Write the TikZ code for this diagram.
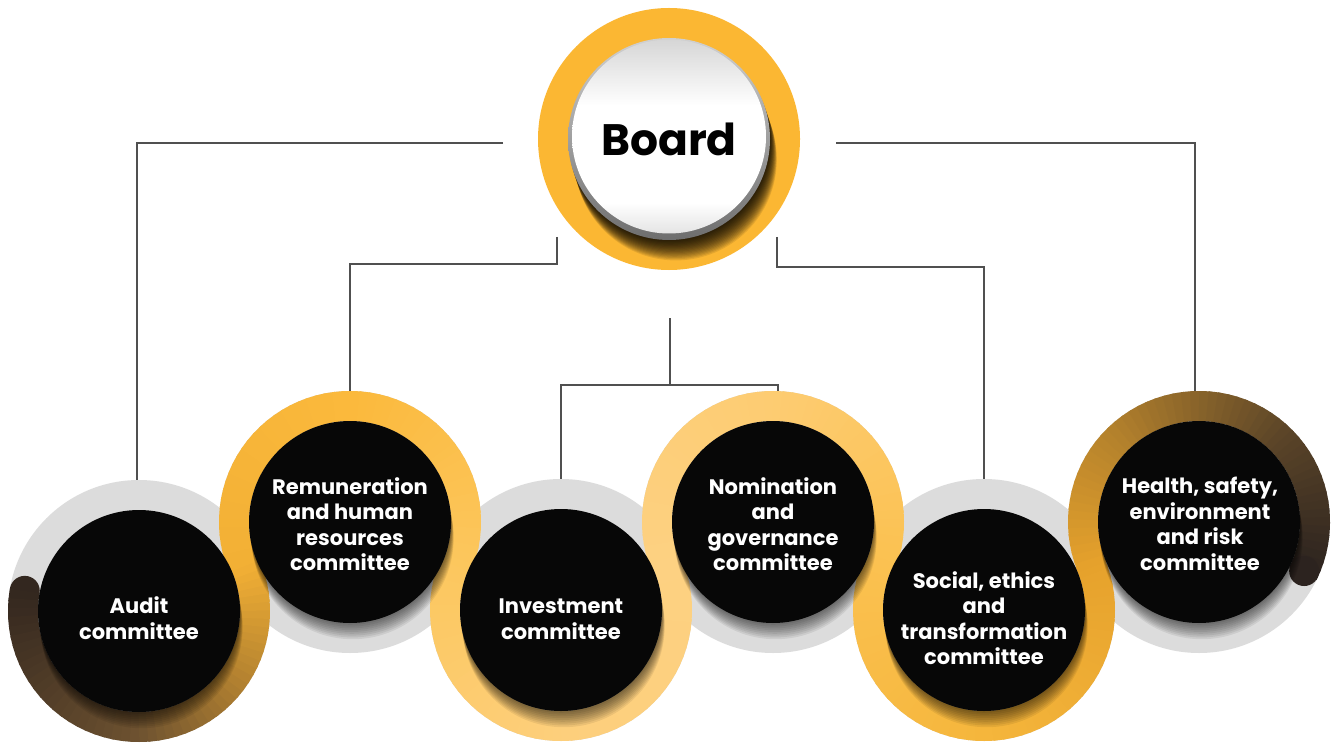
\documentclass[tikz,border=0pt]{standalone}
\usepackage{fontspec}
\setmainfont{Poppins}
\usetikzlibrary{calc}
\definecolor{ringgrey}{HTML}{DCDCDC}
\definecolor{lineg}{HTML}{505050}
\definecolor{boardor}{HTML}{FBB733}
\definecolor{blk}{HTML}{070707}
\definecolor{swA}{HTML}{33271F}
\definecolor{swB}{HTML}{6E5230}
\definecolor{swC}{HTML}{B88530}
\definecolor{swD}{HTML}{F2B035}
\definecolor{swE}{HTML}{FBB93C}
\definecolor{swF}{HTML}{FCC75E}
\definecolor{swG}{HTML}{FDCF7C}
\definecolor{swH}{HTML}{FDD182}
\definecolor{swI}{HTML}{FDCC72}
\definecolor{swJ}{HTML}{FBC150}
\definecolor{swK}{HTML}{F5B63C}
\definecolor{swL}{HTML}{E6A22C}
\definecolor{swM}{HTML}{B5822C}
\definecolor{swN}{HTML}{5A4428}
\definecolor{swO}{HTML}{2C231F}
\definecolor{wtop}{HTML}{D6D6D6}
\definecolor{wbot}{HTML}{E4E4E4}
\definecolor{rimtop}{HTML}{D0D0D0}
\definecolor{rimbot}{HTML}{6E6E6E}
\pgfdeclareverticalshading{boardw}{100bp}{color(0bp)=(wbot); color(25bp)=(wbot); color(33bp)=(white); color(58bp)=(white); color(75bp)=(wtop); color(100bp)=(wtop)}
\newcommand\bandarc[6]{%
  \foreach \i in {1,...,#6}{%
    \pgfmathsetmacro\segA{#2+(#3-#2)*(\i-1)/#6}%
    \pgfmathsetmacro\segB{#2+(#3-#2)*(\i+0.4)/#6}%
    \pgfmathsetmacro\segP{100*(\i-0.5)/#6}%
    \draw[line width=30pt,draw=#5!\segP!#4] (#1.center) ++(\segA:116pt) arc[start angle=\segA,end angle=\segB,radius=116pt];%
  }%
}
\begin{document}
\begin{tikzpicture}[x=1pt,y=1pt,
  ringnode/.style={circle,minimum size=262pt,inner sep=0pt},
  ctext/.style={text=white,font=\bfseries\fontsize{21}{25.5}\selectfont,align=center,inner sep=0pt},
  conn/.style={draw=lineg,line width=1.1pt}]
\fill[white] (0,0) rectangle (1332,-743);
\useasboundingbox (0,0) rectangle (1332,-743);
% committee anchors
\node[ringnode] (aud) at (139,-611) {};
\node[ringnode] (rem) at (350,-522) {};
\node[ringnode] (inv) at (561,-610) {};
\node[ringnode] (nom) at (773,-522) {};
\node[ringnode] (soc) at (984,-610) {};
\node[ringnode] (hse) at (1199,-522) {};
\node[ringnode] (board) at (669,-139) {};
% connectors
\coordinate (bL) at (503,-143);
\coordinate (bR) at (836,-143);
\coordinate (bl2) at (557,-237);
\coordinate (jl2) at (557,-264);
\coordinate (br2) at (777,-237);
\coordinate (jr2) at (777,-267);
\coordinate (mtop) at (670,-318);
\coordinate (mj) at (670,-385);
\draw[conn] (bL) -| ([xshift=-2pt]aud.north);
\draw[conn] (bR) -| ([xshift=-4pt]hse.north);
\draw[conn] (bl2) -- (jl2) -| (rem.north);
\draw[conn] (br2) -- (jr2) -| (soc.north);
\draw[conn] (mtop) -- (mj);
\draw[conn] (mj) -| (inv.north);
\draw[conn] (mj) -| ([xshift=5pt]nom.north);
% grey discs
\foreach \n in {aud,rem,inv,nom,soc,hse} \fill[ringgrey] (\n.center) circle (131pt);
% band
\fill[swA] (aud.center) ++(170:116pt) circle (15pt);
\bandarc{aud}{170}{270}{swA}{swB}{24}
\bandarc{aud}{270}{330}{swB}{swC}{15}
\bandarc{aud}{330}{382.7}{swC}{swD}{14}
\bandarc{rem}{202.7}{90}{swD}{swE}{28}
\bandarc{rem}{90}{-22.7}{swE}{swF}{28}
\bandarc{inv}{157.3}{270}{swF}{swG}{28}
\bandarc{inv}{270}{382.7}{swG}{swH}{28}
\bandarc{nom}{202.7}{90}{swH}{swI}{28}
\bandarc{nom}{90}{-22.7}{swI}{swJ}{28}
\bandarc{soc}{157.3}{270}{swJ}{swK}{28}
\bandarc{soc}{270}{382.7}{swK}{swL}{28}
\bandarc{hse}{202.7}{135}{swL}{swM}{17}
\bandarc{hse}{135}{45}{swM}{swN}{22}
\bandarc{hse}{45}{-25}{swN}{swO}{18}
\fill[swO] (hse.center) ++(-25:116pt) circle (15pt);
% shadows
\foreach \n in {aud,rem,inv,nom,soc,hse}{
  \foreach \k in {1,...,9} \fill[black,opacity=0.07] ($(\n.center)+(0.3*\k,-1.8*\k)$) circle (101pt);
}
% black discs
\foreach \n in {aud,rem,inv,nom,soc,hse} \fill[blk] (\n.center) circle (101pt);
% board
\fill[boardor] (board.center) circle (131pt);
\foreach \k in {1,...,17} \fill[black,opacity=0.09] ($(board.center)+(0.4*\k,-1.2*\k)$) circle (101pt);
\shade[top color=rimtop,bottom color=rimbot] (board.center) circle (101pt);
\shade[shading=boardw] ($(board.center)+(0,2.5)$) circle (97pt);
% texts
\node[font=\bfseries\fontsize{44}{50}\selectfont,inner sep=0pt] (boardt) at (669,-139) {Board};
\node[ctext] (audt) at (139,-618) {Audit\\committee};
\node[ctext] (remt) at (350,-524) {Remuneration\\and human\\resources\\committee};
\node[ctext] (invt) at (561,-619) {Investment\\committee};
\node[ctext] (nomt) at (773,-524) {Nomination\\and\\governance\\committee};
\node[ctext] (soct) at (984,-618) {Social, ethics\\and\\transformation\\committee};
\node[ctext] (hset) at (1200,-524) {Health, safety,\\environment\\and risk\\committee};
\end{tikzpicture}
\end{document}
